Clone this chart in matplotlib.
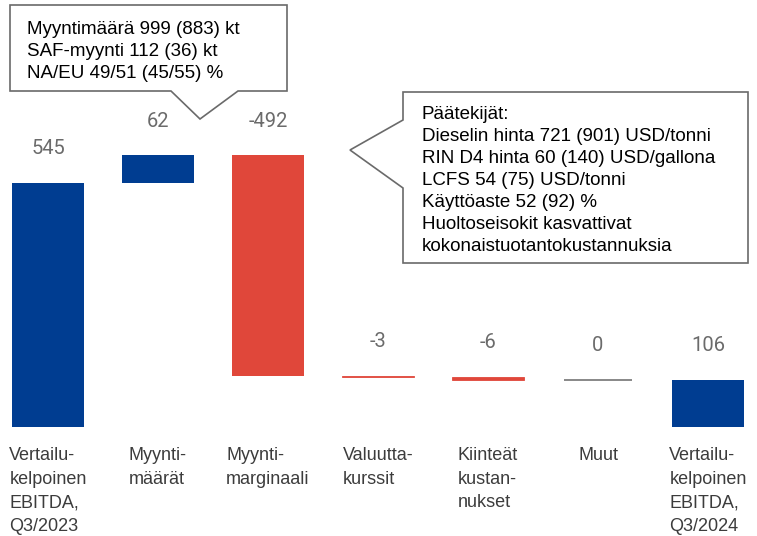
import matplotlib.pyplot as plt
from matplotlib.patches import Polygon

categories = ["Vertailu-\nkelpoinen\nEBITDA,\nQ3/2023", "Myynti-\nmäärät", "Myynti-\nmarginaali",
              "Valuutta-\nkurssit", "Kiinteät\nkustan-\nnukset", "Muut",
              "Vertailu-\nkelpoinen\nEBITDA,\nQ3/2024"]
values = [545, 62, -492, -3, -6, 0, 106]
is_total = [True, False, False, False, False, False, True]
value_labels = ["545", "62", "-492", "-3", "-6", "0", "106"]

callout1 = "Myyntimäärä 999 (883) kt\nSAF-myynti 112 (36) kt\nNA/EU 49/51 (45/55) %"
callout2 = ("Päätekijät:\nDieselin hinta 721 (901) USD/tonni\nRIN D4 hinta 60 (140) USD/gallona\n"
            "LCFS 54 (75) USD/tonni\nKäyttöaste 52 (92) %\nHuoltoseisokit kasvattivat\n"
            "kokonaistuotantokustannuksia")

BLUE = "#003d91"
RED = "#e0473a"
GRAY = "#7f7f7f"
W, H = 757, 536

fig = plt.figure(figsize=(W / 100, H / 100), dpi=100)
ax = fig.add_axes([0, 0, 1, 1])
ax.set_xlim(-0.436, 6.445)
ax.set_ylim(-243, 953)
ax.axis('off')

px = 0.449  # pixels per unit on y
running = 0
for i, v in enumerate(values):
    if is_total[i]:
        bottom, height = 0, v
        running = v
        color = BLUE
    else:
        bottom = min(running, running + v)
        height = abs(v)
        running += v
        color = BLUE if v > 0 else (RED if v < 0 else GRAY)
    if height == 0:
        ax.hlines(bottom, i - 0.31, i + 0.31, color=GRAY, lw=1.3)
    else:
        edge = color if height < 10 else 'none'
        ax.bar(i, height, bottom=bottom, width=0.66, color=color,
               edgecolor=edge, linewidth=0.6)
    top = bottom + height
    ax.text(i, top + 34 / px, value_labels[i], ha='center', va='center',
            fontsize=14.5, color="#6b6b6b", family='Roboto')
    ax.text(i, -45, categories[i], ha='center', va='top', multialignment='left',
            fontsize=13, color="#3c3c3c", family='Liberation Sans', linespacing=1.5)


def fpt(x, y):
    return (x / W, 1 - y / H)


box1 = [(10, 5), (287, 5), (287, 91), (238, 91), (200, 119), (171, 91), (10, 91)]
box2 = [(403, 92), (748, 92), (748, 263), (403, 263), (403, 188), (350, 150), (403, 120)]
for pts in (box1, box2):
    fig.patches.append(Polygon([fpt(*p) for p in pts], closed=True, facecolor='white',
                               edgecolor="#6a6a6a", linewidth=1.2, transform=fig.transFigure))

fig.text(*fpt(27, 21), callout1, ha='left', va='top', fontsize=13.5,
         family='Liberation Sans', linespacing=1.39, color='black')
fig.text(*fpt(422, 106), callout2, ha='left', va='top', fontsize=13.5,
         family='Liberation Sans', linespacing=1.39, color='black')

fig.savefig("out.png", dpi=100)
